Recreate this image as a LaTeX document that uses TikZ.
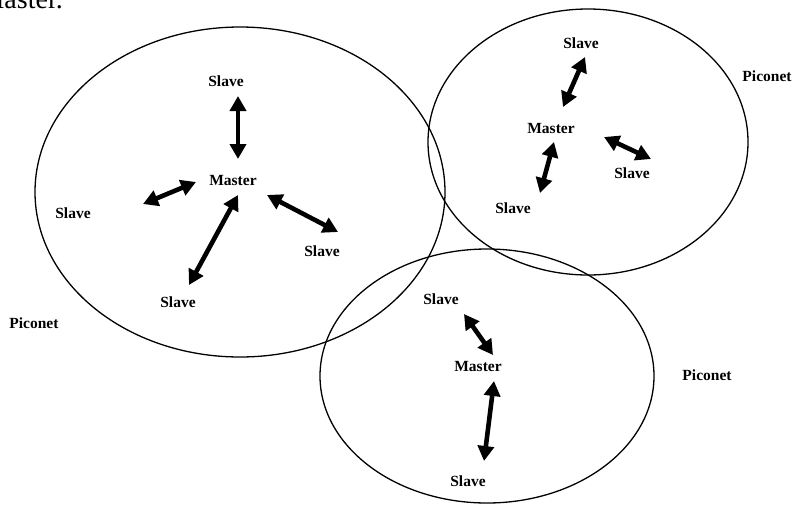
\documentclass[tikz,border=0pt]{standalone}
\usepackage{fontspec}
\setmainfont{Liberation Serif}
\usetikzlibrary{arrows.meta}

\begin{document}
\begin{tikzpicture}[x=1pt,y=-1pt,
    lbl/.style={font=\fontsize{15.5}{18}\selectfont\bfseries, inner sep=0pt},
    link/.style={line width=4.6pt, {Triangle[length=15pt,width=16pt]}-{Triangle[length=15pt,width=16pt]}},
    net/.style={line width=1.3pt}]

\useasboundingbox (0,0) rectangle (792,504);

% Text cut off at the top
\node[anchor=base east, inner sep=0pt, font=\fontsize{28}{32}\selectfont] (cut) at (63,8) {Master.};

% Piconets
\draw[net] (240,192) ellipse [x radius=205pt, y radius=165pt];
\draw[net] (588,142) ellipse [x radius=160pt, y radius=133pt];
\draw[net] (487,376) ellipse [x radius=167pt, y radius=127pt];

% Left piconet
\node[lbl] (m1) at (233,180) {Master};
\node[lbl] (s1a) at (226,81) {Slave};
\node[lbl] (s1b) at (73,213) {Slave};
\node[lbl] (s1c) at (322,251) {Slave};
\node[lbl] (s1d) at (178,302) {Slave};
\node[lbl] (p1) at (34,323) {Piconet};

% Top right piconet
\node[lbl] (m2) at (551,128) {Master};
\node[lbl] (s2a) at (581,43) {Slave};
\node[lbl] (s2b) at (513,208) {Slave};
\node[lbl] (s2c) at (632,173) {Slave};
\node[lbl] (p2) at (767,76) {Piconet};

% Bottom piconet
\node[lbl] (m3) at (478,366) {Master};
\node[lbl] (s3a) at (441,299) {Slave};
\node[lbl] (s3b) at (468,481) {Slave};
\node[lbl] (p3) at (707,375) {Piconet};

% Arrow ends
\coordinate (a1) at (238,96);  \coordinate (b1) at (238,159);
\coordinate (a2) at (143,204); \coordinate (b2) at (196,182);
\coordinate (a3) at (267,195); \coordinate (b3) at (338,232);
\coordinate (a4) at (238,195); \coordinate (b4) at (189,285);
\coordinate (a5) at (585,57);  \coordinate (b5) at (563,107);
\coordinate (a6) at (554,142); \coordinate (b6) at (540,193);
\coordinate (a7) at (604,137); \coordinate (b7) at (651,159);
\coordinate (a8) at (464,314); \coordinate (b8) at (493,355);
\coordinate (a9) at (494,381); \coordinate (b9) at (484,461);

% Links
\foreach \i in {1,...,9}
{
    \draw[link] (a\i) -- (b\i);
}

\end{tikzpicture}
\end{document}
